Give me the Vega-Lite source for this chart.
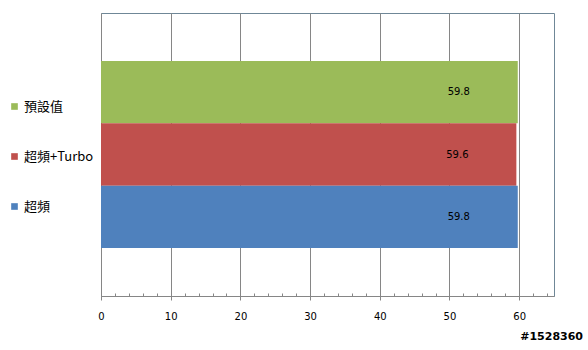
{
  "$schema": "https://vega.github.io/schema/vega-lite/v6.json",
  "width": 453,
  "height": 283,
  "autosize": {"type": "none"},
  "padding": {"left": 101, "top": 13, "right": 34, "bottom": 54},
  "background": "white",
  "config": {
    "view": {"stroke": "#6F8797", "strokeWidth": 1},
    "font": "DejaVu Sans"
  },
  "title": {
    "text": "#1528360",
    "orient": "bottom",
    "anchor": "end",
    "frame": "group",
    "dx": 29,
    "offset": 10,
    "fontSize": 11,
    "fontWeight": "bold",
    "font": "DejaVu Sans",
    "color": "#000000"
  },
  "data": {
    "values": [
      {"series": "預設值", "value": 59.8},
      {"series": "超頻+Turbo", "value": 59.6},
      {"series": "超頻", "value": 59.8}
    ]
  },
  "encoding": {
    "y": {
      "field": "series",
      "type": "nominal",
      "sort": ["預設值", "超頻+Turbo", "超頻"],
      "scale": {"paddingInner": 0, "paddingOuter": 0.77},
      "axis": null
    },
    "x": {
      "field": "value",
      "type": "quantitative",
      "scale": {"domain": [0, 65], "nice": false, "zero": true},
      "axis": null
    }
  },
  "layer": [
    {
      "mark": {"type": "bar"},
      "encoding": {
        "x": {
          "field": "value",
          "type": "quantitative",
          "axis": {
            "orient": "bottom",
            "values": [0, 10, 20, 30, 40, 50, 60],
            "title": null,
            "grid": true,
            "gridColor": "#868686",
            "gridOpacity": 1,
            "domainColor": "#868686",
            "tickColor": "#868686",
            "tickSize": 4,
            "labelPadding": 11,
            "labelFontSize": 10,
            "labelColor": "#000000",
            "labelFont": "DejaVu Sans",
            "labelFlush": false
          }
        },
        "color": {
          "field": "series",
          "type": "nominal",
          "sort": ["預設值", "超頻+Turbo", "超頻"],
          "scale": {
            "domain": ["預設值", "超頻+Turbo", "超頻"],
            "range": ["#9BBB59", "#C0504D", "#4F81BD"]
          },
          "legend": {
            "title": null,
            "orient": "none",
            "legendX": -93,
            "legendY": 87,
            "symbolType": "square",
            "symbolSize": 44,
            "symbolStrokeWidth": 0,
            "labelFontSize": 13,
            "labelFont": "Noto Sans CJK TC",
            "labelColor": "#000000",
            "labelOffset": 3,
            "rowPadding": 36,
            "padding": 0
          }
        }
      }
    },
    {
      "mark": {"type": "text", "dx": -59, "fontSize": 10, "font": "DejaVu Sans", "color": "#000000"},
      "encoding": {
        "text": {"field": "value", "type": "quantitative", "format": ".1f"}
      }
    },
    {
      "mark": {"type": "tick", "opacity": 0},
      "encoding": {
        "x": {
          "field": "value",
          "type": "quantitative",
          "axis": {
            "orient": "bottom",
            "values": [2, 4, 6, 8, 12, 14, 16, 18, 22, 24, 26, 28, 32, 34, 36, 38, 42, 44, 46, 48, 52, 54, 56, 58, 62, 64],
            "title": null,
            "grid": false,
            "domain": false,
            "labels": false,
            "tickColor": "#868686",
            "tickSize": -3
          }
        }
      }
    }
  ],
  "resolve": {"axis": {"x": "independent"}}
}
